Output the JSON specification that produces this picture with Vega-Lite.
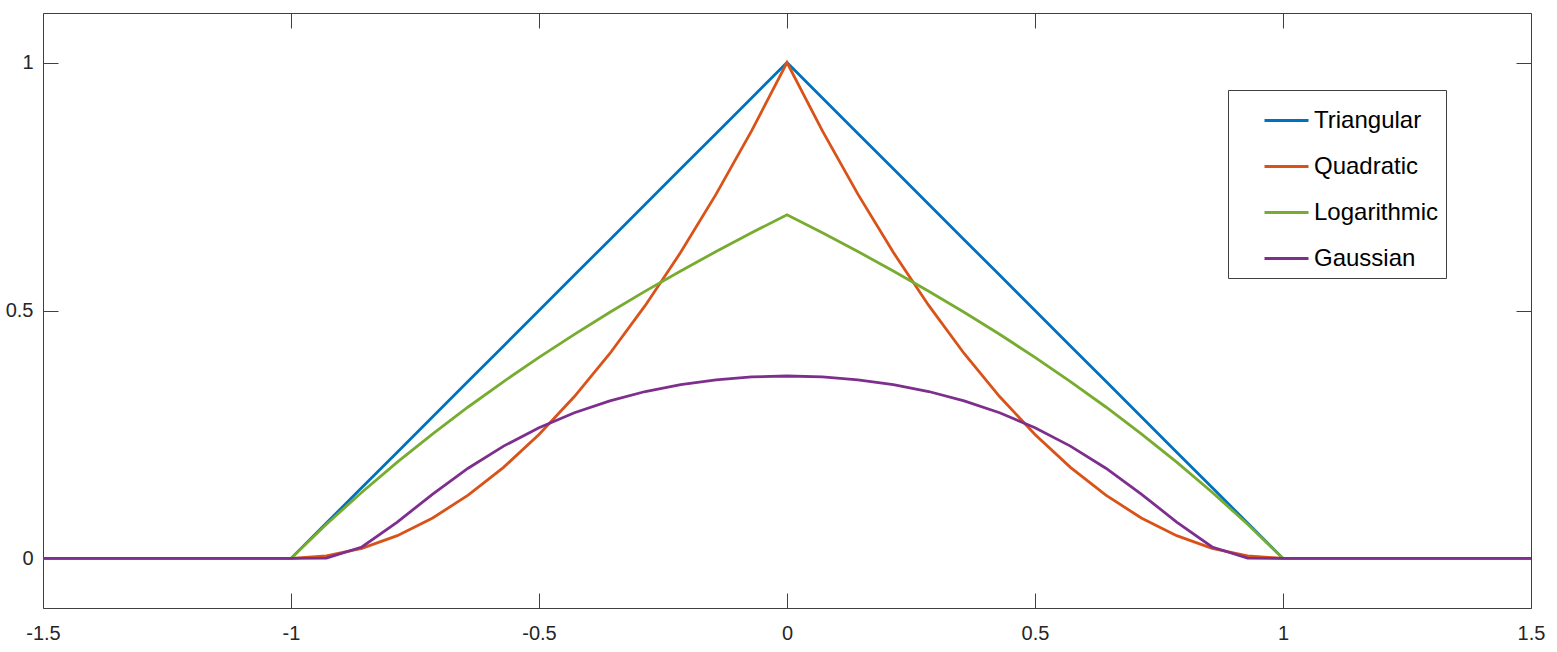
{
  "$schema": "https://vega.github.io/schema/vega-lite/v6.json",
  "width": 1488,
  "height": 595,
  "autosize": {"type": "none"},
  "padding": {"left": 43, "top": 13, "right": 26, "bottom": 44},
  "background": "white",
  "config": {
    "view": {"stroke": null},
    "axis": {
      "domainColor": "#404040",
      "domainWidth": 1,
      "tickColor": "#404040",
      "tickWidth": 1,
      "tickSize": -15,
      "labelFont": "Liberation Sans",
      "labelFontSize": 20,
      "labelColor": "#262626",
      "labelFlush": false,
      "labelOverlap": false,
      "grid": false,
      "title": null
    }
  },
  "data": {
    "values": [
      {"x": -1.5, "Triangular": 0, "Quadratic": 0, "Logarithmic": 0, "Gaussian": 0},
      {"x": -1.4286, "Triangular": 0, "Quadratic": 0, "Logarithmic": 0, "Gaussian": 0},
      {"x": -1.3571, "Triangular": 0, "Quadratic": 0, "Logarithmic": 0, "Gaussian": 0},
      {"x": -1.2857, "Triangular": 0, "Quadratic": 0, "Logarithmic": 0, "Gaussian": 0},
      {"x": -1.2143, "Triangular": 0, "Quadratic": 0, "Logarithmic": 0, "Gaussian": 0},
      {"x": -1.1429, "Triangular": 0, "Quadratic": 0, "Logarithmic": 0, "Gaussian": 0},
      {"x": -1.0714, "Triangular": 0, "Quadratic": 0, "Logarithmic": 0, "Gaussian": 0},
      {"x": -1, "Triangular": 0, "Quadratic": 0, "Logarithmic": 0, "Gaussian": 0},
      {"x": -0.9286, "Triangular": 0.0714, "Quadratic": 0.0051, "Logarithmic": 0.069, "Gaussian": 0.0007},
      {"x": -0.8571, "Triangular": 0.1429, "Quadratic": 0.0204, "Logarithmic": 0.1335, "Gaussian": 0.0231},
      {"x": -0.7857, "Triangular": 0.2143, "Quadratic": 0.0459, "Logarithmic": 0.1942, "Gaussian": 0.0733},
      {"x": -0.7143, "Triangular": 0.2857, "Quadratic": 0.0816, "Logarithmic": 0.2513, "Gaussian": 0.1298},
      {"x": -0.6429, "Triangular": 0.3571, "Quadratic": 0.1276, "Logarithmic": 0.3054, "Gaussian": 0.1819},
      {"x": -0.5714, "Triangular": 0.4286, "Quadratic": 0.1837, "Logarithmic": 0.3567, "Gaussian": 0.2265},
      {"x": -0.5, "Triangular": 0.5, "Quadratic": 0.25, "Logarithmic": 0.4055, "Gaussian": 0.2636},
      {"x": -0.4286, "Triangular": 0.5714, "Quadratic": 0.3265, "Logarithmic": 0.452, "Gaussian": 0.2938},
      {"x": -0.3571, "Triangular": 0.6429, "Quadratic": 0.4133, "Logarithmic": 0.4964, "Gaussian": 0.3178},
      {"x": -0.2857, "Triangular": 0.7143, "Quadratic": 0.5102, "Logarithmic": 0.539, "Gaussian": 0.3366},
      {"x": -0.2143, "Triangular": 0.7857, "Quadratic": 0.6173, "Logarithmic": 0.5798, "Gaussian": 0.3506},
      {"x": -0.1429, "Triangular": 0.8571, "Quadratic": 0.7347, "Logarithmic": 0.619, "Gaussian": 0.3603},
      {"x": -0.0714, "Triangular": 0.9286, "Quadratic": 0.8622, "Logarithmic": 0.6568, "Gaussian": 0.366},
      {"x": 0, "Triangular": 1, "Quadratic": 1, "Logarithmic": 0.6931, "Gaussian": 0.3679},
      {"x": 0.0714, "Triangular": 0.9286, "Quadratic": 0.8622, "Logarithmic": 0.6568, "Gaussian": 0.366},
      {"x": 0.1429, "Triangular": 0.8571, "Quadratic": 0.7347, "Logarithmic": 0.619, "Gaussian": 0.3603},
      {"x": 0.2143, "Triangular": 0.7857, "Quadratic": 0.6173, "Logarithmic": 0.5798, "Gaussian": 0.3506},
      {"x": 0.2857, "Triangular": 0.7143, "Quadratic": 0.5102, "Logarithmic": 0.539, "Gaussian": 0.3366},
      {"x": 0.3571, "Triangular": 0.6429, "Quadratic": 0.4133, "Logarithmic": 0.4964, "Gaussian": 0.3178},
      {"x": 0.4286, "Triangular": 0.5714, "Quadratic": 0.3265, "Logarithmic": 0.452, "Gaussian": 0.2938},
      {"x": 0.5, "Triangular": 0.5, "Quadratic": 0.25, "Logarithmic": 0.4055, "Gaussian": 0.2636},
      {"x": 0.5714, "Triangular": 0.4286, "Quadratic": 0.1837, "Logarithmic": 0.3567, "Gaussian": 0.2265},
      {"x": 0.6429, "Triangular": 0.3571, "Quadratic": 0.1276, "Logarithmic": 0.3054, "Gaussian": 0.1819},
      {"x": 0.7143, "Triangular": 0.2857, "Quadratic": 0.0816, "Logarithmic": 0.2513, "Gaussian": 0.1298},
      {"x": 0.7857, "Triangular": 0.2143, "Quadratic": 0.0459, "Logarithmic": 0.1942, "Gaussian": 0.0733},
      {"x": 0.8571, "Triangular": 0.1429, "Quadratic": 0.0204, "Logarithmic": 0.1335, "Gaussian": 0.0231},
      {"x": 0.9286, "Triangular": 0.0714, "Quadratic": 0.0051, "Logarithmic": 0.069, "Gaussian": 0.0007},
      {"x": 1, "Triangular": 0, "Quadratic": 0, "Logarithmic": 0, "Gaussian": 0},
      {"x": 1.0714, "Triangular": 0, "Quadratic": 0, "Logarithmic": 0, "Gaussian": 0},
      {"x": 1.1429, "Triangular": 0, "Quadratic": 0, "Logarithmic": 0, "Gaussian": 0},
      {"x": 1.2143, "Triangular": 0, "Quadratic": 0, "Logarithmic": 0, "Gaussian": 0},
      {"x": 1.2857, "Triangular": 0, "Quadratic": 0, "Logarithmic": 0, "Gaussian": 0},
      {"x": 1.3571, "Triangular": 0, "Quadratic": 0, "Logarithmic": 0, "Gaussian": 0},
      {"x": 1.4286, "Triangular": 0, "Quadratic": 0, "Logarithmic": 0, "Gaussian": 0},
      {"x": 1.5, "Triangular": 0, "Quadratic": 0, "Logarithmic": 0, "Gaussian": 0}
    ]
  },
  "transform": [
    {"fold": ["Triangular", "Quadratic", "Logarithmic", "Gaussian"], "as": ["kernel", "y"]}
  ],
  "layer": [
    {
      "mark": {"type": "line", "strokeWidth": 2.8},
      "encoding": {
        "x": {
          "field": "x", "type": "quantitative",
          "scale": {"domain": [-1.5, 1.5], "nice": false, "zero": false},
          "axis": {"orient": "bottom", "values": [-1.5, -1, -0.5, 0, 0.5, 1, 1.5], "labelExpr": "toString(datum.value)", "labelPadding": 30}
        },
        "y": {
          "field": "y", "type": "quantitative",
          "scale": {"domain": [-0.1, 1.1], "nice": false, "zero": false},
          "axis": {"orient": "left", "values": [0, 0.5, 1], "labelExpr": "toString(datum.value)", "labelPadding": 25}
        },
        "color": {
          "field": "kernel", "type": "nominal",
          "scale": {"domain": ["Triangular", "Quadratic", "Logarithmic", "Gaussian"], "range": ["#0072BD", "#D95319", "#77AC30", "#7E2F8E"]},
          "legend": {
            "title": null,
            "orient": "none", "legendX": 1185, "legendY": 77,
            "fillColor": "white", "strokeColor": "#404040", "padding": 7,
            "symbolType": "stroke", "symbolSize": 1936, "symbolStrokeWidth": 2.8, "symbolOffset": 28,
            "labelFont": "Liberation Sans", "labelFontSize": 24, "labelColor": "#000000", "labelOffset": 4,
            "rowPadding": 10
          }
        }
      }
    },
    {
      "mark": {"type": "line", "opacity": 0},
      "encoding": {
        "x": {
          "field": "x", "type": "quantitative",
          "scale": {"domain": [-1.5, 1.5], "nice": false, "zero": false},
          "axis": {"orient": "top", "values": [-1.5, -1, -0.5, 0, 0.5, 1, 1.5], "labels": false}
        },
        "y": {
          "field": "y", "type": "quantitative",
          "scale": {"domain": [-0.1, 1.1], "nice": false, "zero": false},
          "axis": {"orient": "right", "values": [0, 0.5, 1], "labels": false}
        },
        "detail": {"field": "kernel"}
      }
    }
  ],
  "resolve": {"axis": {"x": "independent", "y": "independent"}}
}
